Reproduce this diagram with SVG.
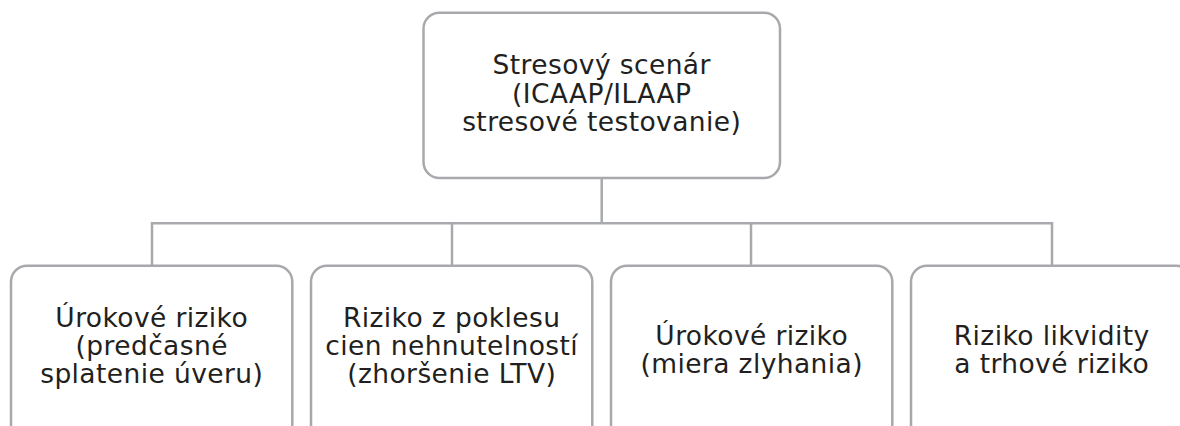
<svg xmlns="http://www.w3.org/2000/svg" width="1180" height="426" viewBox="0 0 1180 426">
<style>
.box{fill:#ffffff;stroke:#a7a9ac;stroke-width:2.5}
.con{fill:none;stroke:#a7a9ac;stroke-width:2.5}
.t{font-family:"DejaVu Sans","Open Sans",sans-serif;font-size:26.5px;letter-spacing:0.4px;fill:#231f20;text-anchor:middle}
</style>
<rect width="1180" height="426" fill="#ffffff"/>
<g id="connectors">
<path class="con" d="M601.7 178 V223.3"/>
<path class="con" d="M152 265.7 V223.3 H1052 V265.7"/>
<path class="con" d="M452 223.3 V265.7"/>
<path class="con" d="M751 223.3 V265.7"/>
</g>
<g id="node-root">
<rect class="box" x="423.5" y="12.7" width="356.5" height="165.3" rx="16"/>
<text class="t" x="601.7" y="74">Stresový scenár</text>
<text class="t" x="601.7" y="102.5">(ICAAP/ILAAP</text>
<text class="t" x="601.7" y="130.7">stresové testovanie)</text>
</g>
<g id="node-1">
<rect class="box" x="11" y="265.7" width="281.3" height="190" rx="16"/>
<text class="t" x="151.7" y="327.3">Úrokové riziko</text>
<text class="t" x="151.7" y="355.3">(predčasné</text>
<text class="t" x="151.7" y="383.3">splatenie úveru)</text>
</g>
<g id="node-2">
<rect class="box" x="311" y="265.7" width="281.3" height="190" rx="16"/>
<text class="t" x="451.7" y="327.3">Riziko z poklesu</text>
<text class="t" x="451.7" y="355.3">cien nehnutelností</text>
<text class="t" x="451.7" y="383.3">(zhoršenie LTV)</text>
</g>
<g id="node-3">
<rect class="box" x="611" y="265.7" width="281.3" height="190" rx="16"/>
<text class="t" x="751.7" y="345">Úrokové riziko</text>
<text class="t" x="751.7" y="373">(miera zlyhania)</text>
</g>
<g id="node-4">
<rect class="box" x="911" y="265.7" width="281.3" height="190" rx="16"/>
<text class="t" x="1051.7" y="345">Riziko likvidity</text>
<text class="t" x="1051.7" y="373">a trhové riziko</text>
</g>
</svg>
